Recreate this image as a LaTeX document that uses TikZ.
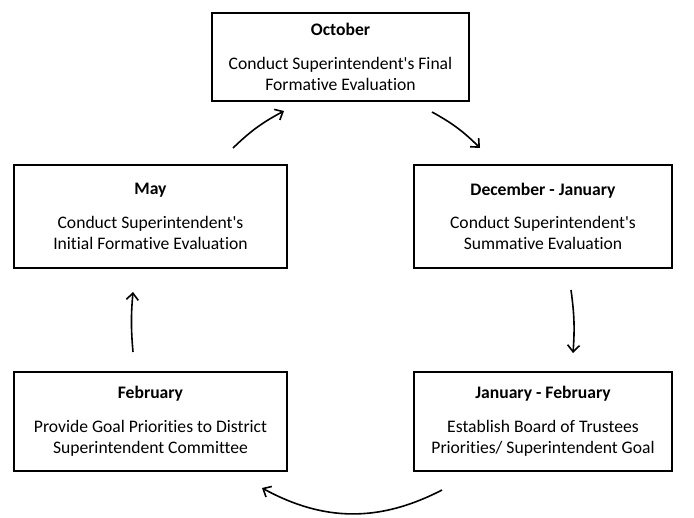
\documentclass[tikz,border=0pt]{standalone}
\usepackage{fontspec}
\setmainfont{Carlito}[Ligatures={NoCommon}]
\usetikzlibrary{arrows.meta}
\newcommand{\apos}{\textquotesingle}
\begin{document}
\begin{tikzpicture}[x=0.75pt,y=-0.75pt,
  stagebox/.style={draw, line width=2pt, align=center, inner sep=0pt,
    font=\fontsize{13.2}{16}\selectfont},
  cyclearrow/.style={line width=1.2pt, -{Straight Barb[length=5pt,width=9pt,line width=1.2pt]}}]
\useasboundingbox (0,0) rectangle (694,518);
\node[stagebox, minimum width=257*0.75pt, minimum height=88*0.75pt] (oct) at (340.5,57)
  {\textbf{October}\\[9pt]Conduct Superintendent\apos s Final\\Formative Evaluation};
\node[stagebox, minimum width=273*0.75pt, minimum height=103*0.75pt] (may) at (150.5,216.5)
  {\textbf{May}\\[9pt]Conduct Superintendent\apos s\\Initial Formative Evaluation};
\node[stagebox, minimum width=258*0.75pt, minimum height=103*0.75pt] (dec) at (543,216.5)
  {\textbf{December - January}\\[9pt]Conduct Superintendent\apos s\\Summative Evaluation};
\node[stagebox, minimum width=273*0.75pt, minimum height=99*0.75pt] (feb) at (150.5,421.5)
  {\textbf{February}\\[9pt]Provide Goal Priorities to District\\Superintendent Committee};
\node[stagebox, minimum width=258*0.75pt, minimum height=99*0.75pt] (jf) at (543,421.5)
  {\textbf{January - February}\\[9pt]Establish Board of Trustees\\Priorities/ Superintendent Goal};
% arrow end points
\coordinate (a1s) at (233,148);
\coordinate (a1e) at (284,111);
\coordinate (a2s) at (432,112);
\coordinate (a2e) at (480,148);
\coordinate (a3s) at (571,290);
\coordinate (a3e) at (573,353);
\coordinate (a4s) at (442,490);
\coordinate (a4e) at (262,488);
\coordinate (a5s) at (133,352);
\coordinate (a5e) at (133,292);
\draw[cyclearrow] (a1s) to[bend left=8] (a1e);
\draw[cyclearrow] (a2s) to[bend left=8] (a2e);
\draw[cyclearrow] (a3s) to[bend left=6] (a3e);
\draw[cyclearrow] (a4s) to[bend left=28] (a4e);
\draw[cyclearrow] (a5s) to[bend left=5] (a5e);
\end{tikzpicture}
\end{document}
